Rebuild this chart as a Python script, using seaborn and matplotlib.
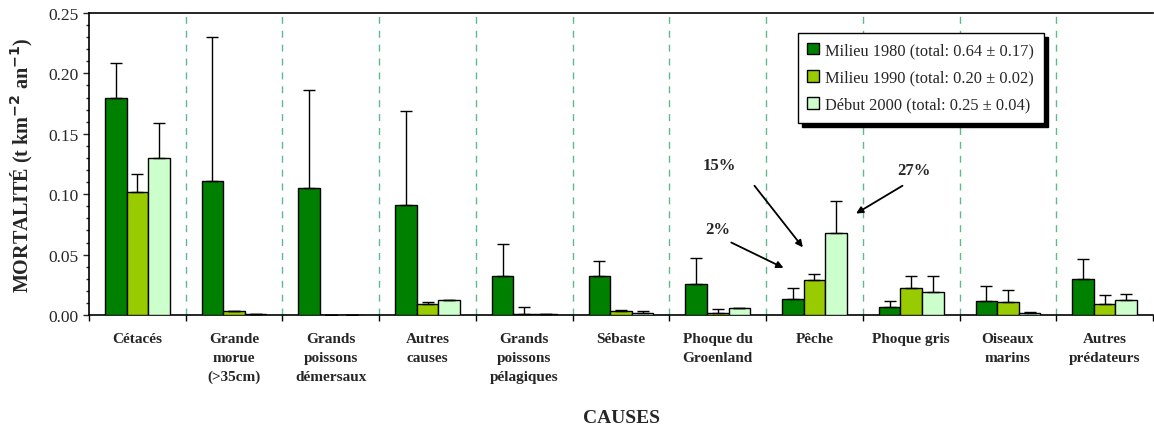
import matplotlib
matplotlib.use("Agg")
import matplotlib.pyplot as plt
import seaborn as sns
import pandas as pd
import numpy as np
from matplotlib.ticker import MultipleLocator, FormatStrFormatter
from matplotlib.patches import Patch

categories = ["Cétacés", "Grande\nmorue\n(>35cm)", "Grands\npoissons\ndémersaux", "Autres\ncauses",
              "Grands\npoissons\npélagiques", "Sébaste", "Phoque du\nGroenland", "Pêche",
              "Phoque gris", "Oiseaux\nmarins", "Autres\nprédateurs"]
series = ["Milieu 1980 (total: 0.64 ± 0.17)",
          "Milieu 1990 (total: 0.20 ± 0.02)",
          "Début 2000 (total: 0.25 ± 0.04)"]
v1980 = [0.180, 0.111, 0.105, 0.091, 0.032, 0.032, 0.026, 0.013, 0.007, 0.012, 0.030]
e1980 = [0.029, 0.119, 0.081, 0.078, 0.027, 0.013, 0.021, 0.009, 0.005, 0.012, 0.016]
v1990 = [0.102, 0.0035, 0.0, 0.0094, 0.001, 0.003, 0.002, 0.029, 0.022, 0.0105, 0.0094]
e1990 = [0.015, 0.0, 0.0, 0.001, 0.006, 0.0015, 0.003, 0.005, 0.010, 0.0105, 0.007]
v2000 = [0.130, 0.001, 0.0, 0.0127, 0.001, 0.002, 0.006, 0.068, 0.019, 0.0017, 0.0127]
e2000 = [0.029, 0.0, 0.0, 0.0, 0.0, 0.001, 0.0, 0.026, 0.013, 0.001, 0.005]
colors = ["#008000", "#99cc00", "#ccffcc"]

values = [v1980, v1990, v2000]
errors = [e1980, e1990, e2000]
rows = []
for s, vals in zip(series, values):
    for c, v in zip(categories, vals):
        rows.append({"cause": c, "period": s, "value": v})
df = pd.DataFrame(rows)

sns.set_style("white")
plt.rcParams["font.family"] = ["Liberation Serif", "DejaVu Serif"]

fig = plt.figure(figsize=(11.54, 4.27), dpi=100)
ax = fig.add_axes([89/1154, 1 - 316/427, (1153 - 89)/1154, (316 - 14)/427])

sns.barplot(data=df, x="cause", y="value", hue="period", order=categories,
            hue_order=series, palette=colors, width=0.67, errorbar=None,
            edgecolor="black", linewidth=1.0, saturation=1, ax=ax, legend=False,
            zorder=3)

for cont, errs in zip(ax.containers, errors):
    xs = [p.get_x() + p.get_width()/2 for p in cont]
    hs = [p.get_height() for p in cont]
    ax.errorbar(xs, hs, yerr=[np.zeros(len(errs)), errs], fmt="none",
                ecolor="black", elinewidth=1.0, capsize=4, capthick=1.0, zorder=4)

ax.set_xlim(-0.5, len(categories) - 0.5)
ax.set_ylim(0, 0.25)

for b in np.arange(0.5, len(categories) - 0.5, 1.0):
    ax.axvline(b, color="#5fb98a", lw=1.0, ls=(0, (5, 5)), zorder=1)

ax.set_xticks(np.arange(-0.5, len(categories), 1.0))
ax.set_xticklabels([])
ax.set_xticks(np.arange(len(categories)), minor=True)
ax.set_xticklabels(categories, minor=True, fontsize=11, fontweight="bold",
                   linespacing=1.6, va="top")
ax.tick_params(axis="x", which="major", direction="out", length=4, width=1, color="black", bottom=True)
ax.tick_params(axis="x", which="minor", length=0, pad=12)

ax.yaxis.set_major_locator(MultipleLocator(0.05))
ax.yaxis.set_minor_locator(MultipleLocator(0.01))
ax.yaxis.set_major_formatter(FormatStrFormatter("%.2f"))
ax.tick_params(axis="y", which="major", direction="out", length=4, width=1, labelsize=12.5, left=True)
ax.tick_params(axis="y", which="minor", direction="out", length=2, width=1, left=True)

for side in ["left", "bottom", "top"]:
    ax.spines[side].set_visible(True)
    ax.spines[side].set_color("black")
    ax.spines[side].set_linewidth(1.2)
ax.spines["right"].set_visible(False)

ax.set_ylabel("MORTALITÉ (t km$^{\\mathbf{-2}}$ an$^{\\mathbf{-1}}$)", fontsize=14.5, fontweight="bold")
ax.yaxis.set_label_coords(-0.051, 0.5)
ax.set_xlabel("CAUSES", fontsize=14, fontweight="bold")
ax.xaxis.set_label_coords(0.5, -0.31)

handles = [Patch(facecolor=c, edgecolor="black", linewidth=1.0, label=s) for c, s in zip(colors, series)]
leg = ax.legend(handles=handles, loc="upper left", bbox_to_anchor=(0.666, 0.935),
                borderaxespad=0, fancybox=False, frameon=True, edgecolor="black",
                fontsize=11.8, handlelength=0.7, handleheight=0.7, handletextpad=0.4,
                labelspacing=0.68, borderpad=0.6,
                shadow={"color": "black", "alpha": 1.0, "ox": 3, "oy": -3})
leg.get_frame().set_linewidth(1.0)
leg.set_zorder(6)

arrowprops = dict(arrowstyle="-|>", color="black", lw=1.3, mutation_scale=10, shrinkA=0, shrinkB=0)
ax.annotate("", xy=(6.88, 0.056), xytext=(6.38, 0.107), arrowprops=arrowprops)
ax.text(6.02, 0.124, "15%", ha="center", va="center", fontsize=12, fontweight="bold")
ax.annotate("", xy=(6.68, 0.039), xytext=(6.14, 0.060), arrowprops=arrowprops)
ax.text(6.00, 0.071, "2%", ha="center", va="center", fontsize=12, fontweight="bold")
ax.annotate("", xy=(7.43, 0.084), xytext=(7.91, 0.107), arrowprops=arrowprops)
ax.text(8.03, 0.120, "27%", ha="center", va="center", fontsize=12, fontweight="bold")

fig.savefig("out.png", dpi=100)
